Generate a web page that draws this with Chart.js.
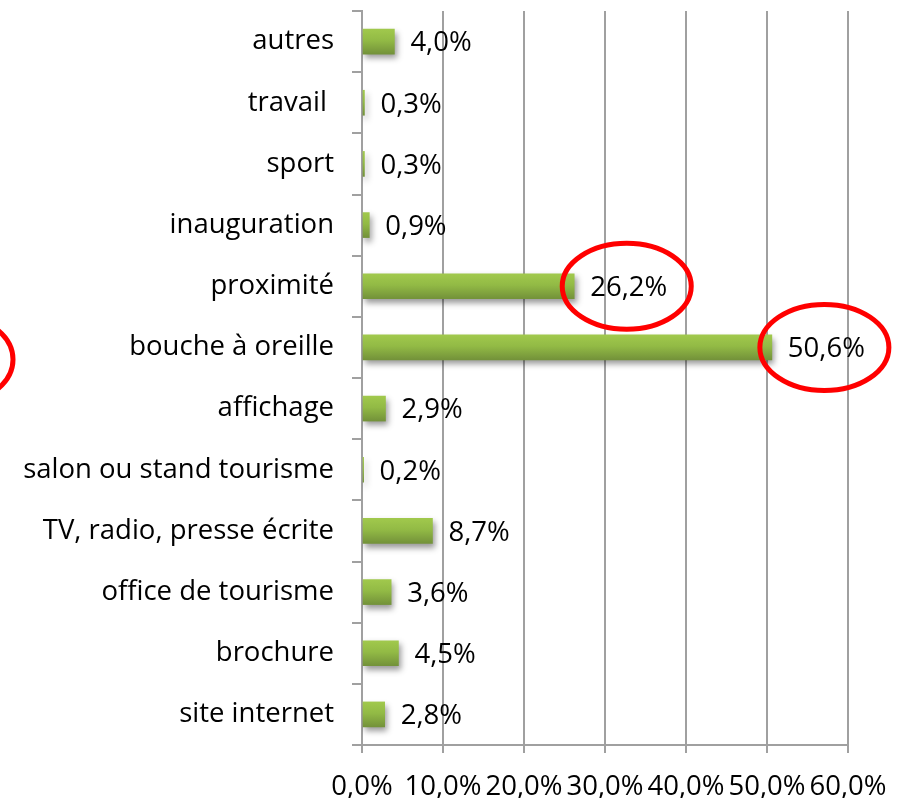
<!DOCTYPE html>
<html>
<head>
<meta charset="utf-8">
<script src="https://cdn.jsdelivr.net/npm/chart.js@4/dist/chart.umd.min.js"></script>
<style>
html,body{margin:0;padding:0;background:#fff;}
#wrap{width:902px;height:798px;position:relative;}
</style>
</head>
<body>
<div id="wrap"><canvas id="c" width="902" height="798"></canvas></div>
<script>
const categories = ["autres","travail ","sport","inauguration","proximité","bouche à oreille","affichage","salon ou stand tourisme","TV, radio, presse écrite","office de tourisme","brochure","site internet"];
const values = [4.0,0.3,0.3,0.9,26.2,50.6,2.9,0.2,8.7,3.6,4.5,2.8];
const xTicks = [0,10,20,30,40,50,60];
const highlighted = ["proximité","bouche à oreille"];

const FONT = "'Open Sans'";
const FSIZE = 27.5;
const fmt = v => v.toFixed(1).replace('.', ',') + '%';

const barGradient = (ctx) => {
  const chart = ctx.chart;
  const y = chart.scales.y;
  if (!y || y.top === undefined) return '#8DB544';
  const yc = y.getPixelForValue(ctx.dataIndex);
  const g = chart.ctx.createLinearGradient(0, yc - 12, 0, yc + 12);
  g.addColorStop(0, '#A0C84C');
  g.addColorStop(0.45, '#92BA45');
  g.addColorStop(1, '#74933A');
  return g;
};

const shadowPlugin = {
  id: 'shadow',
  beforeDatasetsDraw(chart) {
    const c = chart.ctx; c.save();
    c.shadowColor = 'rgba(0,0,0,0.4)';
    c.shadowBlur = 6; c.shadowOffsetX = 2; c.shadowOffsetY = 4;
  },
  afterDatasetsDraw(chart) { chart.ctx.restore(); }
};

const labelPlugin = {
  id: 'valueLabels',
  afterDatasetsDraw(chart) {
    const c = chart.ctx;
    const meta = chart.getDatasetMeta(0);
    c.save();
    c.font = FSIZE + 'px ' + FONT;
    c.fillStyle = '#000';
    c.textAlign = 'left'; c.textBaseline = 'middle';
    meta.data.forEach((bar, i) => {
      c.fillText(fmt(values[i]), bar.x + 16, bar.y + 2);
    });
    c.strokeStyle = '#FF0000'; c.lineWidth = 5;
    highlighted.forEach(name => {
      const i = categories.indexOf(name);
      const bar = meta.data[i];
      const w = c.measureText(fmt(values[i])).width;
      c.beginPath();
      c.ellipse(bar.x + 14 + w / 2, bar.y, w / 2 + 26, 43, 0, 0, Math.PI * 2);
      c.stroke();
    });
    const bb = meta.data[categories.indexOf("bouche à oreille")];
    c.beginPath();
    c.ellipse(-50, bb.y + 12, 63, 45, 0, 0, Math.PI * 2);
    c.stroke();
    c.restore();
  }
};

new Chart(document.getElementById('c'), {
  type: 'bar',
  data: {
    labels: categories,
    datasets: [{
      data: values,
      backgroundColor: barGradient,
      borderWidth: 0,
      barThickness: 25
    }]
  },
  options: {
    indexAxis: 'y',
    responsive: false,
    animation: false,
    devicePixelRatio: 1,
    layout: { padding: { top: 11, right: 54, left: 0, bottom: 0 } },
    plugins: { legend: { display: false }, tooltip: { enabled: false } },
    scales: {
      x: {
        min: 0, max: 60,
        afterBuildTicks(scale) { scale.ticks = xTicks.map(v => ({ value: v })); },
        afterFit(scale) { scale.height = 53; scale.paddingLeft = 0; scale.paddingRight = 0; },
        ticks: {
          font: { family: FONT, size: FSIZE }, color: '#000', padding: 18,
          maxRotation: 0, autoSkip: false,
          callback: v => fmt(v)
        },
        grid: { color: '#A0A0A0', lineWidth: 2, tickLength: 8 },
        border: { color: '#A0A0A0', width: 2 }
      },
      y: {
        afterFit(scale) { scale.width = 362; scale.paddingTop = 0; scale.paddingBottom = 0; },
        ticks: { font: { family: FONT, size: FSIZE }, color: '#000', padding: 18 },
        grid: { drawOnChartArea: false, color: '#A0A0A0', lineWidth: 2, tickLength: 10, offset: true },
        border: { color: '#A0A0A0', width: 2 }
      }
    }
  },
  plugins: [shadowPlugin, labelPlugin]
});
</script>
</body>
</html>
